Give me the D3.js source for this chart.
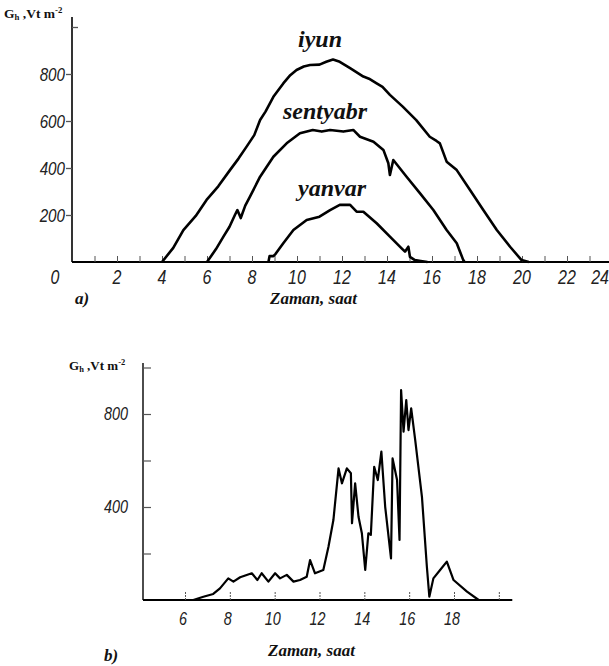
<!DOCTYPE html>
<html lang="en">
<head>
<meta charset="utf-8">
<title>Gh daily curves</title>
<script src="https://cdnjs.cloudflare.com/ajax/libs/d3/7.8.5/d3.min.js"></script>
<style>
  body { margin: 0; background: #fff; }
  .num { font-family: "Liberation Sans", Arial, sans-serif; font-style: italic; fill: #222; }
  .ser { font-family: "Liberation Serif", "Times New Roman", serif; font-weight: bold; fill: #111; }
  .it { font-style: italic; }
  .curve { fill: none; stroke: #000; stroke-linejoin: round; }
  .tick line { stroke: #555; }
  .domain { display: none; }
</style>
</head>
<body>
<script>
// --- data (a): hours, values in Vt/m2 ---
var iyunHour = [4.0, 4.5, 4.95, 5.5, 5.98, 6.5, 7.02, 7.4, 7.76, 8.1, 8.36, 8.6, 8.95, 9.39, 9.7, 9.98, 10.3, 10.58, 11.0, 11.3, 11.6, 11.9, 12.36, 12.95, 13.2, 13.54, 13.8, 14.13, 14.7, 15.3, 15.9, 16.2, 16.35, 16.65, 17.1, 17.69, 18.28, 18.88, 19.47, 19.98, 20.3];
var iyunVal  = [0, 60, 136, 196, 264, 322, 391, 440, 491, 540, 604, 640, 703, 760, 795, 817, 832, 838, 840, 852, 862, 852, 825, 789, 780, 760, 745, 711, 661, 604, 533, 515, 505, 427, 391, 306, 221, 136, 65, 8, 0];

var sentyabrHour = [6.0, 6.4, 6.73, 7.0, 7.24, 7.35, 7.5, 7.7, 7.91, 8.36, 8.95, 9.54, 10.13, 10.7, 11.1, 11.47, 12.06, 12.5, 12.8, 13.4, 13.84, 14.06, 14.13, 14.28, 14.87, 15.47, 16.06, 16.65, 17.1, 17.39, 17.45];
var sentyabrVal  = [0, 55, 108, 150, 200, 221, 187, 240, 278, 363, 448, 505, 548, 562, 555, 562, 555, 562, 533, 512, 477, 420, 370, 434, 363, 292, 221, 136, 80, 8, 0];

var yanvarHour = [8.73, 8.78, 8.95, 9.05, 9.39, 9.84, 10.43, 11.0, 11.47, 11.9, 12.36, 12.65, 12.95, 13.54, 14.13, 14.65, 14.8, 14.95, 15.02, 15.24, 15.5, 15.8];
var yanvarVal  = [0, 25, 25, 35, 80, 136, 179, 193, 221, 243, 243, 214, 214, 165, 108, 58, 44, 65, 22, 8, 4, 0];

// --- data (b) ---
var dayHour = [6.37, 6.82, 7.26, 7.56, 7.93, 8.16, 8.46, 8.98, 9.23, 9.42, 9.72, 10.02, 10.24, 10.54, 10.84, 11.13, 11.43, 11.58, 11.8, 12.17, 12.4, 12.62, 12.85, 13.0, 13.22, 13.4, 13.45, 13.59, 13.74, 13.89, 14.04, 14.18, 14.29, 14.44, 14.6, 14.76, 14.93, 15.19, 15.26, 15.46, 15.57, 15.64, 15.75, 15.87, 15.97, 16.09, 16.27, 16.57, 16.79, 16.9, 17.08, 17.38, 17.68, 17.98, 18.58, 19.1];
var dayVal  = [0, 14, 26, 50, 93, 79, 98, 115, 86, 115, 79, 115, 93, 108, 79, 86, 100, 172, 115, 129, 229, 344, 566, 502, 566, 545, 330, 502, 358, 287, 129, 287, 280, 573, 516, 638, 401, 179, 609, 516, 258, 903, 724, 860, 731, 824, 688, 444, 143, 14, 93, 129, 165, 86, 36, 0];

// tick labels
var topXLabels = [0, 2, 4, 6, 8, 10, 12, 14, 16, 18, 20, 22, 24];
var topYLabels = [200, 400, 600, 800];
var botXLabels = [6, 8, 10, 12, 14, 16, 18];
var botYLabels = [400, 800];

var seriesTop = [
    { name: "iyun", hour: iyunHour, val: iyunVal, lx: 298, ly: 47 },
    { name: "sentyabr", hour: sentyabrHour, val: sentyabrVal, lx: 283, ly: 119 },
    { name: "yanvar", hour: yanvarHour, val: yanvarVal, lx: 298, ly: 196 }
];

var svg = d3.select("body").append("svg")
    .attr("width", 609)
    .attr("height", 666);

// condensed italic number label
function numLabel(g, x, y, txt, size, anchor) {
    g.append("text").attr("class", "num")
        .attr("transform", "translate(" + x + "," + y + ") scale(0.8,1)")
        .attr("text-anchor", anchor)
        .style("font-size", size + "px")
        .text(txt);
}

function unitLabel(g, x, y, size) {
    var t = g.append("text").attr("class", "ser").attr("x", x).attr("y", y)
        .style("font-size", size + "px");
    t.append("tspan").text("G");
    t.append("tspan").text("h").style("font-size", (size * 0.65) + "px").attr("dy", 2);
    t.append("tspan").text(" ,Vt m").attr("dy", -2);
    t.append("tspan").text("-2").style("font-size", (size * 0.65) + "px").attr("dy", -5);
}

// ================= (a) =================
var xA = d3.scaleLinear().domain([0, 24]).range([72, 612]);
var yA = d3.scaleLinear().domain([0, 1000]).range([262, 27]);
var gA = svg.append("g");

gA.append("line").attr("x1", 72).attr("x2", 609).attr("y1", yA(0)).attr("y2", yA(0))
    .attr("stroke", "#000").attr("stroke-width", 2);
gA.append("line").attr("x1", 72).attr("x2", 72).attr("y1", 17).attr("y2", yA(0))
    .attr("stroke", "#000").attr("stroke-width", 1.6);

gA.append("g").attr("transform", "translate(0," + yA(0) + ")")
    .call(d3.axisBottom(xA).tickValues(d3.range(1, 24)).tickSize(-6).tickFormat(""))
    .selectAll("line").attr("stroke-width", 1);

gA.append("g").attr("transform", "translate(72,0)")
    .call(d3.axisLeft(yA).tickValues(topYLabels).tickSize(6).tickFormat(""))
    .selectAll("line").attr("stroke", "#000").attr("stroke-width", 1.3);
gA.append("g").attr("transform", "translate(72,0)")
    .call(d3.axisRight(yA).tickValues([1000]).tickSize(6).tickFormat(""))
    .selectAll("line").attr("stroke", "#000").attr("stroke-width", 1.3);

topYLabels.forEach(function(d) { numLabel(gA, 65, yA(d) + 7, d, 19, "end"); });
topXLabels.forEach(function(d) {
    if (d === 24) numLabel(gA, 609, 284, d, 20, "end");
    else numLabel(gA, xA(d) + (d === 0 ? -17 : 0), 284, d, 20, "middle");
});

var lineA = d3.line()
    .x(function(d) { return xA(d[0]); })
    .y(function(d) { return yA(d[1]); });

seriesTop.forEach(function(s) {
    gA.append("path").attr("class", "curve").attr("stroke-width", 2.6)
        .attr("d", lineA(d3.zip(s.hour, s.val)));
    gA.append("text").attr("class", "ser it").attr("x", s.lx).attr("y", s.ly)
        .style("font-size", "24px").text(s.name);
});

unitLabel(gA, 4, 18, 13.5);
gA.append("text").attr("class", "ser it").attr("x", 75).attr("y", 304).style("font-size", "17px").text("a)");
gA.append("text").attr("class", "ser it").attr("x", 270).attr("y", 304).style("font-size", "17px").text("Zaman, saat");

// ================= (b) =================
var xB = d3.scaleLinear().domain([6, 18]).range([185, 454]);
var yB = d3.scaleLinear().domain([0, 1000]).range([600, 367.5]);
var gB = svg.append("g");

gB.append("line").attr("x1", 143).attr("x2", xB(20.6)).attr("y1", yB(0)).attr("y2", yB(0))
    .attr("stroke", "#000").attr("stroke-width", 1.8);
gB.append("line").attr("x1", 143).attr("x2", 143).attr("y1", 363).attr("y2", yB(0))
    .attr("stroke", "#000").attr("stroke-width", 1.4);

gB.append("g").attr("transform", "translate(0," + yB(0) + ")")
    .call(d3.axisBottom(xB).tickValues(d3.range(6, 21, 2)).tickSize(-8).tickFormat(""))
    .selectAll("line").attr("stroke-width", 1).attr("stroke-dasharray", "2,1");

gB.append("g").attr("transform", "translate(143,0)")
    .call(d3.axisRight(yB).tickValues([200, 400, 600, 800, 1000]).tickSize(8).tickFormat(""))
    .selectAll("line").attr("stroke", "#000").attr("stroke-width", 1.2);

botYLabels.forEach(function(d) { numLabel(gB, 128, yB(d) + 6, d, 18, "end"); });
botXLabels.forEach(function(d) { numLabel(gB, xB(d) - 2, 625, d, 18, "middle"); });

var lineB = d3.line()
    .x(function(d) { return xB(d[0]); })
    .y(function(d) { return yB(d[1]); });

gB.append("path").attr("class", "curve").attr("stroke-width", 2.2)
    .attr("d", lineB(d3.zip(dayHour, dayVal)));

unitLabel(gB, 69, 370, 13);
gB.append("text").attr("class", "ser it").attr("x", 104).attr("y", 661).style("font-size", "17px").text("b)");
gB.append("text").attr("class", "ser it").attr("x", 268).attr("y", 656).style("font-size", "17px").text("Zaman, saat");
</script>
</body>
</html>
